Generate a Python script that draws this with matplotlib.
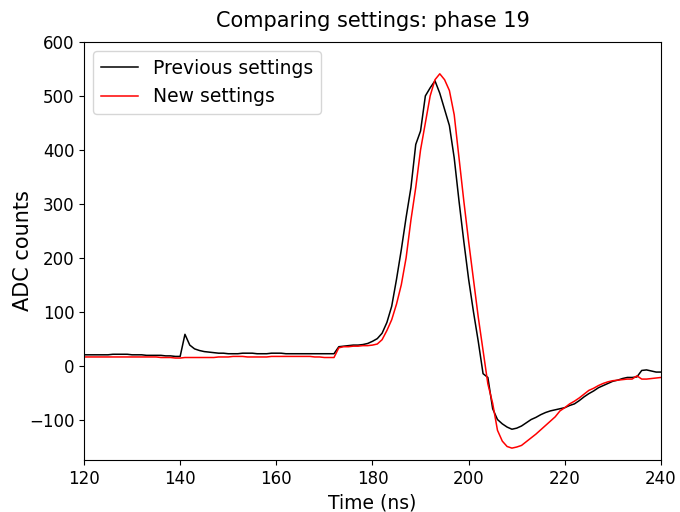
import matplotlib
matplotlib.use("Agg")
import matplotlib.pyplot as plt

# time axis, 1 ns steps
time_ns = list(range(120, 241))

# previous settings (black)
adc_previous = [
    20, 20, 20, 20, 20, 20, 21, 21, 21, 21,      # 120-129
    20, 20, 20, 19, 19, 19, 19, 18, 18, 17,      # 130-139
    17, 58, 38, 31, 28, 26, 25, 24, 23, 23,      # 140-149
    22, 22, 22, 23, 23, 23, 22, 22, 22, 23,      # 150-159
    23, 23, 22, 22, 22, 22, 22, 22, 22, 22,      # 160-169
    22, 22, 22, 35, 36, 37, 38, 38, 39, 41,      # 170-179
    45, 50, 60, 80, 110, 160, 215, 275, 330, 410,  # 180-189
    435, 500, 515, 528, 505, 475, 445, 385, 305, 230,  # 190-199
    160, 100, 45, -15, -22, -80, -100, -108, -114, -118,  # 200-209
    -116, -112, -106, -100, -96, -91, -87, -84, -82, -80,  # 210-219
    -78, -74, -71, -65, -58, -52, -47, -41, -37, -33,  # 220-229
    -29, -27, -24, -22, -22, -21, -9, -8, -10, -12,  # 230-239
    -12,                                          # 240
]

# new settings (red)
adc_new = [
    16, 16, 16, 16, 16, 16, 16, 16, 16, 16,      # 120-129
    16, 16, 16, 16, 16, 16, 15, 15, 15, 14,      # 130-139
    14, 15, 15, 15, 15, 15, 15, 15, 16, 16,      # 140-149
    16, 17, 17, 17, 16, 16, 16, 16, 16, 17,      # 150-159
    17, 17, 17, 17, 17, 17, 17, 17, 16, 16,      # 160-169
    15, 15, 15, 33, 35, 35, 36, 36, 37, 37,      # 170-179
    38, 40, 48, 65, 85, 114, 150, 200, 270, 330,  # 180-189
    400, 450, 500, 530, 541, 530, 510, 465, 385, 305,  # 190-199
    230, 160, 90, 28, -34, -70, -120, -140, -150, -153,  # 200-209
    -151, -148, -141, -134, -127, -119, -111, -103, -95, -84,  # 210-219
    -78, -71, -66, -60, -53, -46, -42, -37, -33, -30,  # 220-229
    -28, -27, -26, -25, -25, -19, -25, -25, -24, -23,  # 230-239
    -22,                                          # 240
]

fig = plt.figure(figsize=(6.8, 5.12), dpi=100)
ax = fig.add_axes([0.1235, 0.1016, 0.8485, 0.8164])

ax.plot(time_ns, adc_previous, color="black", linewidth=1.1, label="Previous settings")
ax.plot(time_ns, adc_new, color="red", linewidth=1.1, label="New settings")

ax.set_xlim(120, 240)
ax.set_ylim(-175, 600)
ax.tick_params(labelsize=12)
ax.set_xlabel("Time (ns)", fontsize=13.5)
ax.set_ylabel("ADC counts", fontsize=15, labelpad=-3)
ax.set_title("Comparing settings: phase 19", fontsize=15, pad=11)
ax.legend(loc="upper left", fontsize=13.5)

fig.savefig("out.png", dpi=100)
